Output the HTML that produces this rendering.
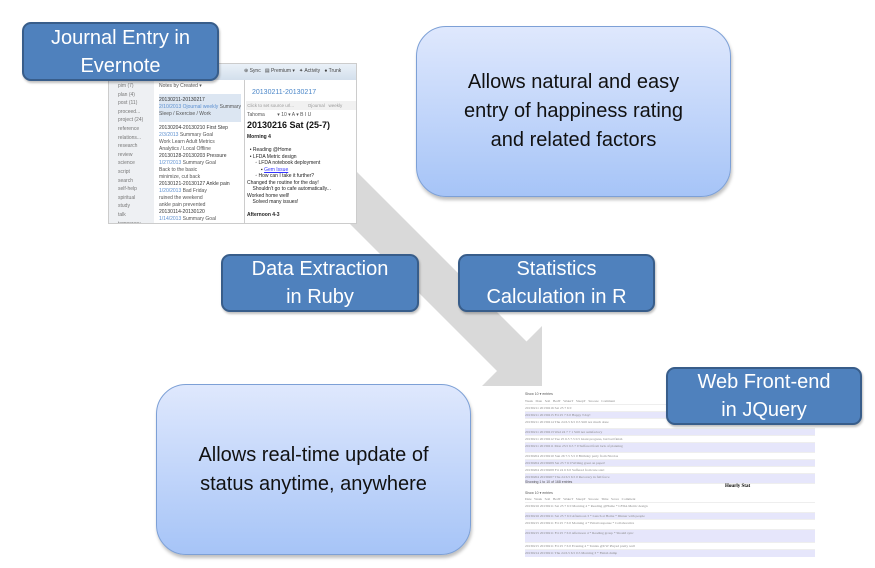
<!DOCTYPE html>
<html><head><meta charset="utf-8"><style>
body{margin:0;width:875px;height:568px;background:#fff;position:relative;overflow:hidden;font-family:"Liberation Sans",sans-serif}
.a{position:absolute}
.dk{position:absolute;background:#4f81bd;border:2px solid #385d8a;border-radius:9px;color:#fff;text-align:center;font-size:20px;line-height:28px;box-sizing:border-box;box-shadow:1px 2px 2px rgba(0,0,0,.25);display:flex;align-items:center;justify-content:center}
.lt{position:absolute;background:linear-gradient(#dfe8fd,#a6c4f7);border:1px solid #7da0d6;border-radius:30px;color:#111;text-align:center;font-size:20px;line-height:29px;box-sizing:border-box;box-shadow:1px 3px 3px rgba(0,0,0,.25);display:flex;align-items:center;justify-content:center}
.t{font-size:5px;color:#777;line-height:9px;white-space:nowrap;overflow:hidden}
.tb div{height:6px;border-bottom:1px solid #eee;font-size:3.5px;color:#888;white-space:nowrap;overflow:hidden;font-family:"Liberation Serif",serif;line-height:6px}
.tb div:nth-child(odd){background:#e6e6fb}
</style></head><body>
<svg class="a" style="left:0;top:0" width="875" height="568"><polygon points="352,167 526.5,341.5 542,326 542,386 482,386 497,371 323,197" fill="#d9d9d9"/></svg>

<!-- Evernote screenshot -->
<div class="a" style="left:108px;top:63px;width:247px;height:159px;background:#fff;border:1px solid #ccc;overflow:hidden">
 <div class="a" style="left:0;top:0;width:247px;height:16px;background:linear-gradient(#eaf1f8,#d3dfec)"></div>
 <div class="a t" style="left:135px;top:3px;color:#444">⊕ Sync &nbsp; ▤ Premium ▾ &nbsp; ✦ Activity &nbsp; ● Trunk</div>
 <div class="a" style="left:0;top:16px;width:45px;height:143px;background:#eef0f3"></div>
 <div class="a t" style="left:9px;top:18px;line-height:8.6px">pim (7)<br>plan (4)<br>post (11)<br>proceed...<br>project (24)<br>reference<br>relations...<br>research<br>review<br>science<br>script<br>search<br>self-help<br>spiritual<br>study<br>talk<br>temporary<br>travel<br>unpublish<br>video<br>voice<br>weekly</div>
 <div class="a" style="left:47px;top:16px;width:88px;height:143px;background:#fff;border-right:1px solid #ccc"></div>
 <div class="a" style="left:50px;top:30px;width:82px;height:28px;background:#dce6f2"></div>
 <div class="a t" style="left:50px;top:19px;width:82px;line-height:7px;color:#555">Notes by Created ▾<br><br><span style="color:#333">20130211-20130217</span><br><span style="color:#5b8fd0">2/10/2013 Ojournal weekly</span> Summary<br>Sleep / Exercise / Work<br><br><span style="color:#333">20130204-20130210 First Step</span><br><span style="color:#5b8fd0">2/3/2013</span> Summary Goal<br>Work Learn Adult Metrics<br>Analytics / Local Offline<br><span style="color:#333">20130128-20130203 Pressure</span><br><span style="color:#5b8fd0">1/27/2013</span> Summary Goal<br>Back to the basic<br>minimize, cut back<br><span style="color:#333">20130121-20130127 Ankle pain</span><br><span style="color:#5b8fd0">1/20/2013</span> Bad Friday<br>ruined the weekend<br>ankle pain prevented<br><span style="color:#333">20130114-20130120</span><br><span style="color:#5b8fd0">1/14/2013</span> Summary Goal<br>Stick to routines<br>Removing bad habits<br><span style="color:#333">20130107-20130113</span></div>
 <div class="a" style="left:136px;top:16px;width:111px;height:143px;background:#fff"></div>
 <div class="a" style="left:143px;top:25px;font-size:7px;color:#4a86c8">20130211-20130217</div>
 <div class="a" style="left:137px;top:37px;width:110px;height:9px;background:#f1f1f1;font-size:4.5px;color:#999;line-height:9px">&nbsp;Click to set source url... &nbsp; &nbsp; &nbsp; &nbsp; &nbsp; Ojournal &nbsp; weekly</div>
 <div class="a t" style="left:138px;top:47px;color:#555">Tahoma &nbsp; &nbsp; &nbsp; &nbsp; ▾ 10 ▾ A ▾ B I U</div>
 <div class="a" style="left:138px;top:56px;font-size:9px;font-weight:bold;color:#111">20130216 Sat (25-7)</div>
 <div class="a" style="left:138px;top:70px;font-size:5px;line-height:6.5px;color:#222;white-space:nowrap"><b>Morning 4</b><br><br>&nbsp; • Reading @Home<br>&nbsp; • LFDA Metric design<br>&nbsp; &nbsp; &nbsp; ◦ LFDA notebook deployment<br>&nbsp; &nbsp; &nbsp; &nbsp; &nbsp; ▪ <span style="color:#33f;text-decoration:underline">Gem Issue</span><br>&nbsp; &nbsp; &nbsp; ◦ How can I take it further?<br>Changed the routine for the day!<br>&nbsp; &nbsp; Shouldn't go to cafe automatically...<br>Worked home well!<br>&nbsp; &nbsp; Solved many issues!<br><br><b>Afternoon 4-3</b><br><br>&nbsp; • Lunch at Home</div>
</div>

<div class="dk" style="left:22px;top:22px;width:197px;height:59px">Journal Entry in<br>Evernote</div>
<div class="lt" style="left:416px;top:26px;width:315px;height:171px">Allows natural and easy<br>entry of happiness rating<br>and related factors</div>
<div class="dk" style="left:221px;top:254px;width:198px;height:58px">Data Extraction<br>in Ruby</div>
<div class="dk" style="left:458px;top:254px;width:197px;height:58px">Statistics<br>Calculation in R</div>
<div class="lt" style="left:156px;top:384px;width:315px;height:171px">Allows real-time update of<br>status anytime, anywhere</div>

<!-- table screenshot -->
<div class="a" style="left:525px;top:387px;width:290px;height:170px;overflow:hidden">
 <div class="a" style="left:0;top:5px;font-size:3.5px;color:#555">Show 10 ▾ entries</div>
 <div class="a tb" style="left:0;top:11px;width:290px">
  <div style="background:#fff">Week &nbsp; Date &nbsp; Soil &nbsp; BedT &nbsp; WakeT &nbsp; SleepT &nbsp; Snooze &nbsp; Comment</div>
  <div>20130211 20130216 Sat 25 7 6 0</div><div>20130211 20130215 Fri 25 7 6 0 Happy !!day!</div>
  <div style="height:9px">20130211 20130214 Thu 24 6.5 6.5 0.5 Still not much done</div><div>20130211 20130213 Wed 24 7 7 1 Still not satisfactory</div>
  <div>20130211 20130212 Tue 25 6.5 7.5 0.5 Giant progress, but bad finish</div><div style="height:9px">20130211 20130211 Mon 23.5 6.5 7 0 Suffered from lack of planning</div>
  <div>20130204 20130210 Sun 26 7.5 5.5 0 Birthday party from Nicolas</div><div>20130204 20130209 Sat 25 7 6 0 Writing great on paper!</div>
  <div>20130204 20130208 Fri 24 6 6 0 Suffered from late start</div><div style="height:9px">20130204 20130207 Thu 24 6.5 6.5 0 Recovery in full force</div>
 </div>
 <div class="a" style="left:0;top:93px;font-size:3.5px;color:#555">Showing 1 to 10 of 168 entries</div>
 <div class="a" style="left:200px;top:97px;font-size:5px;font-weight:bold;font-family:'Liberation Serif',serif">Hourly Stat</div>
 <div class="a" style="left:0;top:104px;font-size:3.5px;color:#555">Show 10 ▾ entries</div>
 <div class="a tb" style="left:0;top:109px;width:290px">
  <div style="background:#fff">Date &nbsp; Week &nbsp; Soil &nbsp; BedT &nbsp; WakeT &nbsp; SleepT &nbsp; Snooze &nbsp; Time &nbsp; Score &nbsp; Comment</div>
  <div style="height:9px">20130216 20130211 Sat 25 7 6 0 Morning 4 * Reading @Home * LFDA Metric design</div><div>20130216 20130211 Sat 25 7 6 0 Afternoon 3 * Lunch at Home * Dinner with people</div>
  <div style="height:9px">20130215 20130211 Fri 25 7 6 0 Morning 4 * Email response * Collaborative</div><div style="height:12px">20130215 20130211 Fri 25 7 6 0 Afternoon 4 * Reading group * Should sync</div>
  <div>20130215 20130211 Fri 25 7 6 0 Evening 4 * Tennis @UW Played pretty well</div>
  <div style="height:9px">20130214 20130211 Thu 24 6.5 6.5 0.5 Morning 3 * Finish dump</div>
  <div>20130214 20130211 Thu 24 6.5 6.5 0.5 Afternoon 3 * Open BrayTechTalk</div>
  <div>20130214 20130211 Thu 24 6.5 6.5 0.5 Evening 4 * Just concert dump</div>
  <div>20130213 20130211 Wed 24 7 7 1 Morning 2 * Jigs Book the restaurant</div>
  <div>20130213 20130211 Wed 24 7 7 1 Afternoon 3 * Lunch w Tonga</div>
 </div>
</div>
<div class="dk" style="left:666px;top:367px;width:196px;height:58px">Web Front-end<br>in JQuery</div>
</body></html>
